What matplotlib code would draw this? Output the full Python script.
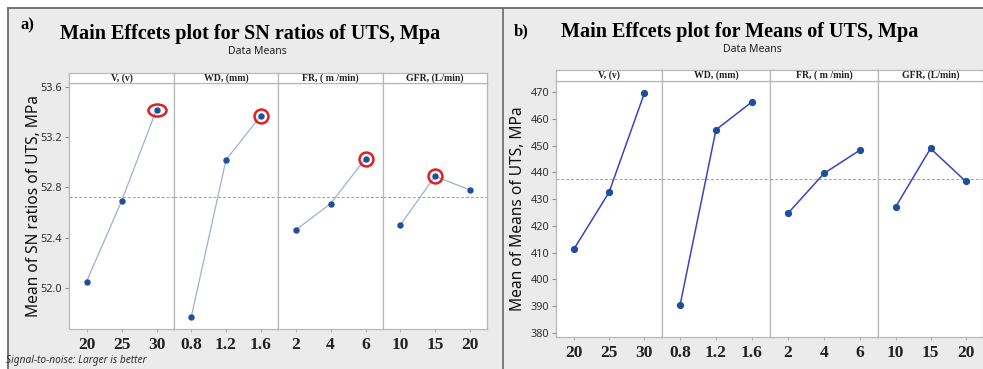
"""Main effects plots (SN ratios and means) for UTS, Minitab-style layout."""

import matplotlib.pyplot as plt
import numpy as np
from matplotlib.markers import MarkerStyle
from matplotlib.path import Path
from matplotlib.transforms import Affine2D

W, H = 983, 369

factors = ["V, (v)", "WD, (mm)", "FR, ( m /min)", "GFR, (L/min)"]
levels_v = ["20", "25", "30"]
levels_wd = ["0.8", "1.2", "1.6"]
levels_fr = ["2", "4", "6"]
levels_gfr = ["10", "15", "20"]

# SN ratios (larger is better)
sn_v = [52.05, 52.69, 53.42]
sn_wd = [51.77, 53.02, 53.37]
sn_fr = [52.46, 52.67, 53.03]
sn_gfr = [52.50, 52.89, 52.78]

# means of UTS, MPa
mean_v = [411.2, 432.5, 469.5]
mean_wd = [390.3, 455.9, 466.3]
mean_fr = [424.7, 439.6, 448.3]
mean_gfr = [427.0, 448.9, 436.7]

sn_ticks = [52.0, 52.4, 52.8, 53.2, 53.6]
mean_ticks = [380, 390, 400, 410, 420, 430, 440, 450, 460, 470]

SERIF = "Liberation Serif"
SANS = "Noto Sans"

fig = plt.figure(figsize=(W / 100, H / 100), dpi=100)
fig.patch.set_facecolor("white")


def px_axes(x0, y0, x1, y1, **kw):
    """Axes from pixel box (top-left origin)."""
    return fig.add_axes([x0 / W, 1 - y1 / H, (x1 - x0) / W, (y1 - y0) / H], **kw)


# grey background frame
bg = px_axes(8, 8, W, H)
bg.set_facecolor("#ebebeb")
bg.set_xticks([])
bg.set_yticks([])
for s in ["right", "bottom"]:
    bg.spines[s].set_visible(False)
for s in ["top", "left"]:
    bg.spines[s].set_color("#606060")
    bg.spines[s].set_linewidth(1.2)
bg.axvline((503 - 8) / (W - 8), color="#7a7a7a", lw=1.4)

ellipse = MarkerStyle(Path.unit_circle().transformed(Affine2D().scale(1.5, 1.0)))


def draw_block(bounds, top, strip_top, bottom, values, levels, ylim, yticks,
               line_kw, mark_kw, label_x, highlight=False, ylabel=""):
    overall = np.mean(np.concatenate(values))
    for i in range(4):
        ax = px_axes(bounds[i], top, bounds[i + 1], bottom)
        ax.set_facecolor("white")
        x = np.arange(3)
        ax.plot(x, values[i], zorder=3, **line_kw)
        ax.plot(x, values[i], ls="none", zorder=4, **mark_kw)
        if highlight:
            k = int(np.argmax(values[i]))
            mk = ellipse if i == 0 else "o"
            ax.plot(x[k], values[i][k], ls="none", marker=mk, ms=13 if i == 0 else 10,
                    mfc="none", mec="#e02020", mew=1.8, zorder=5)
        ax.axhline(overall, color="#a0a0a0", ls=(0, (3, 2)), lw=0.7, zorder=2)
        ax.set_xlim(-0.5, 2.5)
        ax.set_ylim(*ylim)
        ax.set_xticks(x)
        ax.set_xticklabels(levels[i], fontfamily=SERIF, fontweight="bold",
                           fontsize=12.5, color="#202020")
        ax.tick_params(axis="x", length=2, color="#b0b0b0", pad=4)
        for s in ax.spines.values():
            s.set_color("#b8b8b8")
            s.set_linewidth(0.9)
        if i == 0:
            ax.set_yticks(yticks)
            fmt = "{:.1f}" if isinstance(yticks[0], float) else "{:d}"
            ax.set_yticklabels([fmt.format(t) for t in yticks], fontfamily=SANS,
                               fontsize=7.8, color="#303030")
            ax.tick_params(axis="y", length=3, color="#909090", pad=2)
            ax.set_ylabel(ylabel, fontfamily=SANS, fontsize=11.2, color="#101010")
            # label_x is the right edge of the rotated label, in pixels
            w = bounds[1] - bounds[0]
            ax.yaxis.set_label_coords((label_x - bounds[0]) / w, 0.5)
        else:
            ax.set_yticks([])

        st = px_axes(bounds[i], strip_top, bounds[i + 1], top)
        st.set_facecolor("white")
        st.set_xticks([])
        st.set_yticks([])
        for s in st.spines.values():
            s.set_color("#b8b8b8")
            s.set_linewidth(0.9)
        st.text(0.5, 0.5, factors[i], ha="center", va="center",
                fontfamily=SERIF, fontweight="bold", fontsize=7, color="#202020")


# (a) SN ratios
sn_vals = [sn_v, sn_wd, sn_fr, sn_gfr]
lv = [levels_v, levels_wd, levels_fr, levels_gfr]
draw_block([69, 174, 278, 383, 487], 83, 73, 329, sn_vals, lv,
           (51.672, 53.632), sn_ticks,
           dict(color="#9db2cc", lw=0.9),
           dict(marker="o", ms=3.6, color="#1f4f9a"),
           label_x=42, highlight=True, ylabel="Mean of SN ratios of UTS, MPa")

# (b) means
mean_vals = [mean_v, mean_wd, mean_fr, mean_gfr]
draw_block([556, 662, 770, 878, 983], 81, 70, 337, mean_vals, lv,
           (378.5, 474.1), mean_ticks,
           dict(color="#3c42c4", lw=1.1),
           dict(marker="o", ms=4.2, color="#1f4f9a"),
           label_x=526, ylabel="Mean of Means of UTS, MPa")

# titles and notes
fig.text(27 / W, 1 - 25 / H, "a)", fontfamily=SERIF, fontweight="bold",
         fontsize=12, ha="center", va="center")
fig.text(250 / W, 1 - 34 / H, "Main Effcets plot for SN ratios of UTS, Mpa",
         fontfamily=SERIF, fontweight="bold", fontsize=14.5, ha="center", va="center")
fig.text(257 / W, 1 - 52 / H, "Data Means", fontfamily=SANS, fontsize=7.5,
         ha="center", va="center", color="#202020")

fig.text(521 / W, 1 - 31 / H, "b)", fontfamily=SERIF, fontweight="bold",
         fontsize=12, ha="center", va="center")
fig.text(740 / W, 1 - 32 / H, "Main Effcets plot for Means of UTS, Mpa",
         fontfamily=SERIF, fontweight="bold", fontsize=14.5, ha="center", va="center")
fig.text(752 / W, 1 - 50 / H, "Data Means", fontfamily=SANS, fontsize=7.5,
         ha="center", va="center", color="#202020")

fig.text(6 / W, 1 - 361 / H, "Signal-to-noise: Larger is better", fontfamily=SANS,
         fontstyle="italic", fontsize=7.3, ha="left", va="center", color="#303030")

fig.savefig("out.png", dpi=100)
